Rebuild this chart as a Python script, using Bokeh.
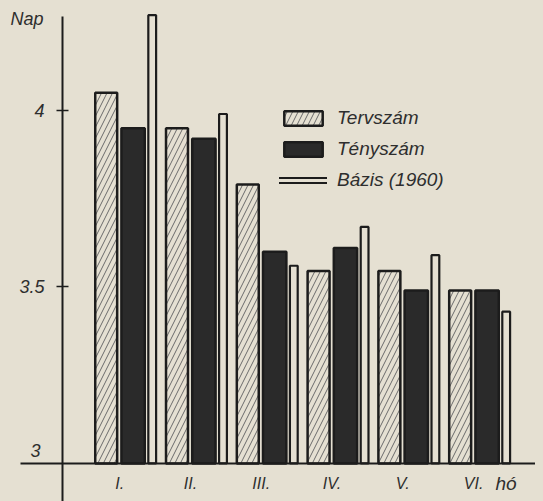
from bokeh.plotting import figure
from bokeh.models import (Range1d, LinearAxis, FixedTicker, ColumnDataSource,
                          Legend, LegendItem, Label)
from bokeh.transform import dodge
from bokeh.embed import file_html
from bokeh.resources import INLINE
from jinja2 import Template

# ---- data ----
months = ["I.", "II.", "III.", "IV.", "V.", "VI."]
tervszam = [4.05, 3.95, 3.79, 3.545, 3.545, 3.49]
tenyszam = [3.95, 3.92, 3.60, 3.61, 3.49, 3.49]
bazis_1960 = [4.27, 3.99, 3.56, 3.67, 3.59, 3.43]
y_base = 3
y_ticks = [3.5, 4]
y_tick_labels = ["3.5", "4"]
series_labels = ["Tervszám", "Tényszám", "Bázis (1960)"]
y_title = "Nap"
x_title = "hó"

BG = "#e5e0d2"
INK = "#1c1c1c"
TXT = "#2e2e2e"
FONT = "Liberation Sans"
NAN = float("nan")

idx = list(range(len(months)))
src = ColumnDataSource(dict(x=idx, terv=tervszam, teny=tenyszam, bazis=bazis_1960,
                            base=[y_base] * len(idx)))

p = figure(width=535, height=493, output_backend="svg", toolbar_location=None,
           x_range=Range1d(-1.66, 5.897), y_range=Range1d(2.892, 4.289),
           x_axis_type=None, y_axis_type=None,
           min_border_left=0, min_border_right=0, min_border_top=0, min_border_bottom=0,
           background_fill_color=BG, border_fill_color=BG, outline_line_color=None)

r_terv = p.vbar(x=dodge("x", -0.28), top="terv", bottom="base", width=0.31, source=src,
                fill_color=BG, hatch_pattern="/", hatch_color="#6a6a6a", hatch_scale=11,
                hatch_weight=1, line_color=INK, line_width=2.5)
r_teny = p.vbar(x=dodge("x", 0.10), top="teny", bottom="base", width=0.33, source=src,
                fill_color="#2a2a2a", line_color=INK, line_width=2.5)
r_baz = p.vbar(x=dodge("x", 0.37), top="bazis", bottom="base", width=0.11, source=src,
               fill_color=BG, line_color=INK, line_width=2.2)

# legend swatch for Bázis: outlined thin bar (no visible data)
l1 = p.line(x=[NAN, NAN], y=[NAN, NAN], line_color=INK, line_width=7, line_cap="round")
l2 = p.line(x=[NAN, NAN], y=[NAN, NAN], line_color=BG, line_width=3, line_cap="round")

legend = Legend(items=[LegendItem(label=series_labels[0], renderers=[r_terv]),
                       LegendItem(label=series_labels[1], renderers=[r_teny]),
                       LegendItem(label=series_labels[2], renderers=[l1, l2])],
                location=(271, 310), glyph_width=48, glyph_height=18, label_height=18,
                spacing=9, label_standoff=10, padding=0, margin=0,
                border_line_color=None, background_fill_alpha=0,
                label_text_font=FONT, label_text_font_style="italic",
                label_text_font_size="19px", label_text_color=TXT)
p.add_layout(legend)

yaxis = LinearAxis(fixed_location=-0.897, ticker=FixedTicker(ticks=y_ticks),
                   bounds=(2.892, 4.266),
                   major_label_overrides=dict(zip(y_ticks, y_tick_labels)),
                   axis_line_width=2, axis_line_color=INK,
                   major_tick_in=6, major_tick_out=6, major_tick_line_width=1.5,
                   major_tick_line_color=INK, minor_tick_line_color=None,
                   major_label_standoff=12, major_label_text_font=FONT,
                   major_label_text_font_style="italic", major_label_text_font_size="18px",
                   major_label_text_color=TXT)
p.add_layout(yaxis, "left")

xticks = [i - 0.09 for i in idx]
xaxis = LinearAxis(fixed_location=y_base, ticker=FixedTicker(ticks=xticks),
                   bounds=(-1.49, 5.85),
                   major_label_overrides=dict(zip(xticks, months)),
                   axis_line_width=2, axis_line_color=INK,
                   major_tick_in=0, major_tick_out=0, minor_tick_line_color=None,
                   major_label_standoff=12, major_label_text_font=FONT,
                   major_label_text_font_style="italic", major_label_text_font_size="16px",
                   major_label_text_color=TXT)
p.add_layout(xaxis, "below")

p.add_layout(Label(x=2, y=483, x_units="screen", y_units="screen", text=y_title,
                   text_font=FONT, text_font_style="italic", text_font_size="18px",
                   text_color=TXT, text_baseline="middle"))
p.add_layout(Label(x=487, y=18, x_units="screen", y_units="screen", text=x_title,
                   text_font=FONT, text_font_style="italic", text_font_size="19px",
                   text_color=TXT, text_baseline="middle"))
p.add_layout(Label(x=22, y=51, x_units="screen", y_units="screen", text=str(y_base),
                   text_font=FONT, text_font_style="italic", text_font_size="18px",
                   text_color=TXT, text_baseline="middle"))

template = Template("""<!DOCTYPE html>
<html lang="en">
<head>
<meta charset="utf-8">
<title>{{ title }}</title>
{{ bokeh_css }}
{{ bokeh_js }}
<style>body { background: #e5e0d2; }</style>
</head>
<body>
{{ plot_div }}
{{ plot_script }}
</body>
</html>""")

open("out.html", "w").write(file_html(p, INLINE, template=template))
